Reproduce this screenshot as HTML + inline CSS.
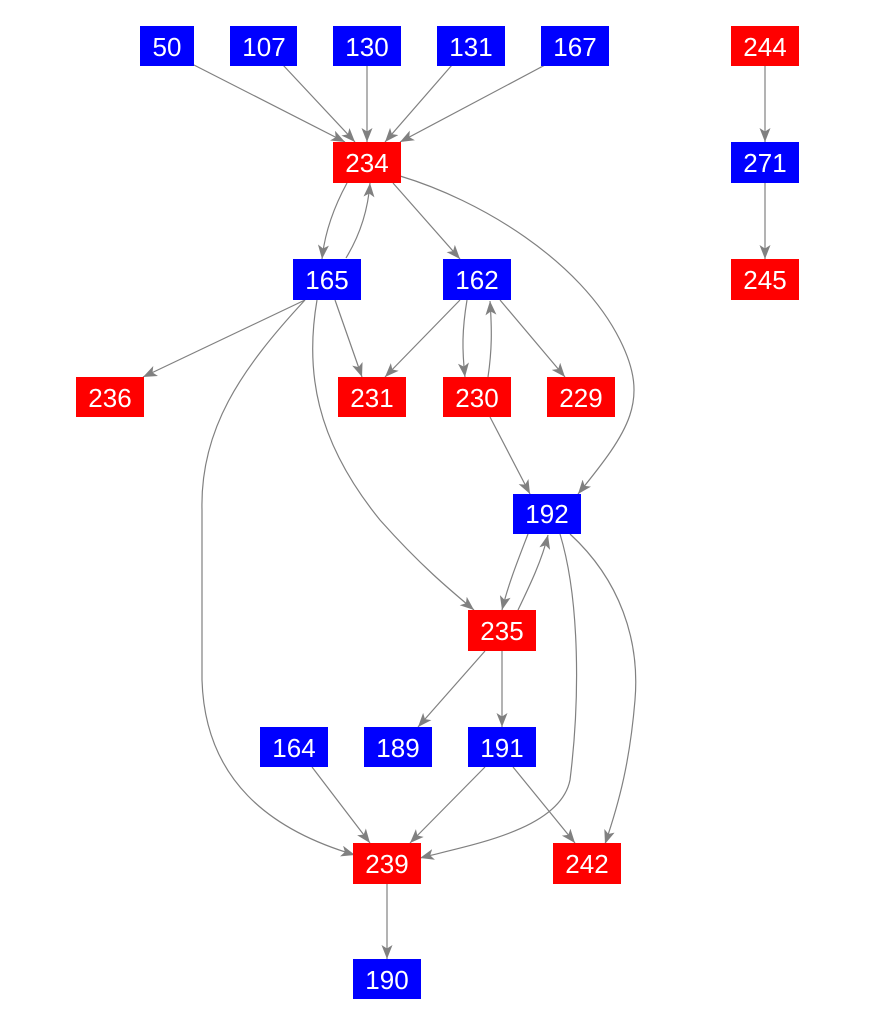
<!DOCTYPE html>
<html><head><style>
body{margin:0;background:#fff;}
svg{display:block;}
text{font-family:"Liberation Sans",Arial,sans-serif;font-size:26px;fill:#fff;text-anchor:middle;dominant-baseline:central;}
path.e{fill:none;stroke:#808080;stroke-width:1.2;marker-end:url(#a);}
</style></head><body>
<svg width="875" height="1025" viewBox="0 0 875 1025">
<defs><marker id="a" markerWidth="16" markerHeight="12" refX="14" refY="5.5" orient="auto" markerUnits="userSpaceOnUse"><path d="M0,0 L14,5.5 L0,11 L3.5,5.5z" fill="#808080"/></marker></defs>
<g>
<path class="e" d="M192,64 L345,142"/>
<path class="e" d="M283,65 L355,142"/>
<path class="e" d="M367,65 L367,142"/>
<path class="e" d="M452,65 L385,142"/>
<path class="e" d="M545,65 L400,142"/>
<path class="e" d="M765,66 L765,142"/>
<path class="e" d="M765,183 L765,259"/>
<path class="e" d="M347,183 C335,205 325,230 322,259"/>
<path class="e" d="M346,258 C360,235 368,210 370,183"/>
<path class="e" d="M393,183 L460,259"/>
<path class="e" d="M400,176 C480,200 580,260 620,340 C650,400 630,430 578,494"/>
<path class="e" d="M305,300 L143,377"/>
<path class="e" d="M335,300 L362,377"/>
<path class="e" d="M317,300 C305,370 315,440 380,520 C420,565 450,590 474,610"/>
<path class="e" d="M305,300 C240,370 200,430 202,510 L202,680 C205,780 270,830 355,855"/>
<path class="e" d="M460,300 L385,377"/>
<path class="e" d="M467,300 C462,330 462,350 465,377"/>
<path class="e" d="M488,377 C492,350 492,330 490,301"/>
<path class="e" d="M500,300 L565,377"/>
<path class="e" d="M490,417 L530,494"/>
<path class="e" d="M528,534 C518,560 508,585 502,610"/>
<path class="e" d="M518,610 C530,585 542,560 548,535"/>
<path class="e" d="M560,534 C580,600 580,700 570,780 C560,830 470,845 420,858"/>
<path class="e" d="M570,534 C620,580 640,640 635,700 C630,760 620,800 605,844"/>
<path class="e" d="M485,651 L418,727"/>
<path class="e" d="M502,651 L502,727"/>
<path class="e" d="M312,767 L370,843"/>
<path class="e" d="M485,767 L410,843"/>
<path class="e" d="M513,767 L575,843"/>
<path class="e" d="M387,884 L387,959"/>
</g>
<g>
<rect x="140" y="26" width="54" height="40" fill="#0000ff"/><text x="167" y="47">50</text>
<rect x="230" y="26" width="67" height="40" fill="#0000ff"/><text x="264" y="47">107</text>
<rect x="333" y="26" width="68" height="40" fill="#0000ff"/><text x="367" y="47">130</text>
<rect x="437" y="26" width="68" height="40" fill="#0000ff"/><text x="471" y="47">131</text>
<rect x="541" y="26" width="68" height="40" fill="#0000ff"/><text x="575" y="47">167</text>
<rect x="731" y="26" width="68" height="40" fill="#ff0000"/><text x="765" y="47">244</text>
<rect x="333" y="142" width="68" height="41" fill="#ff0000"/><text x="367" y="163">234</text>
<rect x="731" y="142" width="68" height="41" fill="#0000ff"/><text x="765" y="163">271</text>
<rect x="293" y="259" width="68" height="41" fill="#0000ff"/><text x="327" y="280">165</text>
<rect x="443" y="259" width="68" height="41" fill="#0000ff"/><text x="477" y="280">162</text>
<rect x="731" y="259" width="68" height="41" fill="#ff0000"/><text x="765" y="280">245</text>
<rect x="76" y="377" width="68" height="40" fill="#ff0000"/><text x="110" y="398">236</text>
<rect x="338" y="377" width="68" height="40" fill="#ff0000"/><text x="372" y="398">231</text>
<rect x="443" y="377" width="68" height="40" fill="#ff0000"/><text x="477" y="398">230</text>
<rect x="547" y="377" width="68" height="40" fill="#ff0000"/><text x="581" y="398">229</text>
<rect x="513" y="494" width="68" height="40" fill="#0000ff"/><text x="547" y="514">192</text>
<rect x="468" y="610" width="68" height="41" fill="#ff0000"/><text x="502" y="631">235</text>
<rect x="260" y="727" width="68" height="40" fill="#0000ff"/><text x="294" y="748">164</text>
<rect x="364" y="727" width="68" height="40" fill="#0000ff"/><text x="398" y="748">189</text>
<rect x="468" y="727" width="68" height="40" fill="#0000ff"/><text x="502" y="748">191</text>
<rect x="353" y="843" width="68" height="41" fill="#ff0000"/><text x="387" y="864">239</text>
<rect x="553" y="843" width="68" height="41" fill="#ff0000"/><text x="587" y="864">242</text>
<rect x="353" y="959" width="68" height="40" fill="#0000ff"/><text x="387" y="980">190</text>
</g>
</svg>
</body></html>
